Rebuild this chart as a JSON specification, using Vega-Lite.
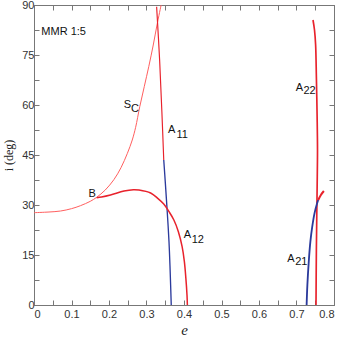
{
  "$schema": "https://vega.github.io/schema/vega-lite/v6.json",
  "width": 300,
  "height": 300,
  "autosize": "none",
  "padding": {"left": 34, "top": 5, "right": 7, "bottom": 32},
  "background": "white",
  "config": {
    "view": {"stroke": "#888", "strokeWidth": 1},
    "axis": {
      "domainColor": "#777",
      "tickColor": "#777",
      "tickSize": -5,
      "grid": false,
      "labelFont": "Liberation Sans",
      "labelFontSize": 11,
      "labelColor": "#333",
      "titleFont": "Liberation Serif",
      "titleColor": "#222",
      "titleFontWeight": "normal"
    }
  },
  "datasets": {
    "curves": [
      {"s": "SC", "k": 1, "e": 0.0, "i": 27.7},
      {"s": "SC", "k": 2, "e": 0.04, "i": 27.9},
      {"s": "SC", "k": 3, "e": 0.071, "i": 28.2},
      {"s": "SC", "k": 4, "e": 0.1, "i": 28.9},
      {"s": "SC", "k": 5, "e": 0.124, "i": 29.8},
      {"s": "SC", "k": 6, "e": 0.15, "i": 31.1},
      {"s": "SC", "k": 7, "e": 0.167, "i": 32.3},
      {"s": "SC", "k": 8, "e": 0.19, "i": 34.5},
      {"s": "SC", "k": 9, "e": 0.213, "i": 37.6},
      {"s": "SC", "k": 10, "e": 0.232, "i": 41.2},
      {"s": "SC", "k": 11, "e": 0.249, "i": 45.5},
      {"s": "SC", "k": 12, "e": 0.262, "i": 49.5},
      {"s": "SC", "k": 13, "e": 0.271, "i": 53.3},
      {"s": "SC", "k": 14, "e": 0.282, "i": 59.5},
      {"s": "SC", "k": 15, "e": 0.294, "i": 65.5},
      {"s": "SC", "k": 16, "e": 0.306, "i": 71.5},
      {"s": "SC", "k": 17, "e": 0.318, "i": 78},
      {"s": "SC", "k": 18, "e": 0.328, "i": 84},
      {"s": "SC", "k": 19, "e": 0.339, "i": 90},

      {"s": "A11r", "k": 1, "e": 0.327, "i": 89.5},
      {"s": "A11r", "k": 2, "e": 0.335, "i": 73.5},
      {"s": "A11r", "k": 3, "e": 0.341, "i": 58},
      {"s": "A11r", "k": 4, "e": 0.346, "i": 43.5},

      {"s": "A11b", "k": 1, "e": 0.346, "i": 43.5},
      {"s": "A11b", "k": 2, "e": 0.35, "i": 37},
      {"s": "A11b", "k": 3, "e": 0.355, "i": 28.5},
      {"s": "A11b", "k": 4, "e": 0.36, "i": 19},
      {"s": "A11b", "k": 5, "e": 0.363, "i": 10.5},
      {"s": "A11b", "k": 6, "e": 0.366, "i": 0},

      {"s": "A12", "k": 1, "e": 0.167, "i": 32.2},
      {"s": "A12", "k": 2, "e": 0.18, "i": 32.4},
      {"s": "A12", "k": 3, "e": 0.204, "i": 33},
      {"s": "A12", "k": 4, "e": 0.24, "i": 34.2},
      {"s": "A12", "k": 5, "e": 0.265, "i": 34.6},
      {"s": "A12", "k": 6, "e": 0.28, "i": 34.5},
      {"s": "A12", "k": 7, "e": 0.311, "i": 33.6},
      {"s": "A12", "k": 8, "e": 0.33, "i": 32},
      {"s": "A12", "k": 9, "e": 0.346, "i": 30.3},
      {"s": "A12", "k": 10, "e": 0.36, "i": 28},
      {"s": "A12", "k": 11, "e": 0.373, "i": 25.5},
      {"s": "A12", "k": 12, "e": 0.385, "i": 22},
      {"s": "A12", "k": 13, "e": 0.395, "i": 17.5},
      {"s": "A12", "k": 14, "e": 0.401, "i": 13},
      {"s": "A12", "k": 15, "e": 0.405, "i": 8},
      {"s": "A12", "k": 16, "e": 0.408, "i": 3},
      {"s": "A12", "k": 17, "e": 0.409, "i": 0},

      {"s": "A22", "k": 1, "e": 0.744, "i": 85.5},
      {"s": "A22", "k": 2, "e": 0.748, "i": 82.5},
      {"s": "A22", "k": 3, "e": 0.751, "i": 78},
      {"s": "A22", "k": 4, "e": 0.753, "i": 68.5},
      {"s": "A22", "k": 5, "e": 0.755, "i": 56.5},
      {"s": "A22", "k": 6, "e": 0.756, "i": 46.5},
      {"s": "A22", "k": 7, "e": 0.755, "i": 35},
      {"s": "A22", "k": 8, "e": 0.753, "i": 16.5},
      {"s": "A22", "k": 9, "e": 0.752, "i": 0},

      {"s": "A21b", "k": 1, "e": 0.727, "i": 0},
      {"s": "A21b", "k": 2, "e": 0.729, "i": 6},
      {"s": "A21b", "k": 3, "e": 0.733, "i": 13.5},
      {"s": "A21b", "k": 4, "e": 0.737, "i": 19},
      {"s": "A21b", "k": 5, "e": 0.742, "i": 23.5},
      {"s": "A21b", "k": 6, "e": 0.748, "i": 27.5},
      {"s": "A21b", "k": 7, "e": 0.755, "i": 30.5},
      {"s": "A21b", "k": 8, "e": 0.758, "i": 31.5},

      {"s": "A21r", "k": 1, "e": 0.758, "i": 31.5},
      {"s": "A21r", "k": 2, "e": 0.765, "i": 33},
      {"s": "A21r", "k": 3, "e": 0.773, "i": 34.2}
    ],
    "labels": [
      {"t": "S", "e": 0.249, "i": 59.1, "g": "main"},
      {"t": "A", "e": 0.367, "i": 51.6, "g": "main"},
      {"t": "A", "e": 0.409, "i": 20.1, "g": "main"},
      {"t": "A", "e": 0.708, "i": 64.2, "g": "main"},
      {"t": "A", "e": 0.685, "i": 12.9, "g": "main"},
      {"t": "11", "e": 0.395, "i": 50.1, "g": "sub"},
      {"t": "12", "e": 0.437, "i": 18.7, "g": "sub"},
      {"t": "22", "e": 0.735, "i": 63.3, "g": "sub"},
      {"t": "21", "e": 0.713, "i": 12.0, "g": "sub"},
      {"t": "C", "e": 0.269, "i": 57.9, "g": "csub"},
      {"t": "B", "e": 0.155, "i": 32.4, "g": "b"},
      {"t": "MMR 1:5", "e": 0.079, "i": 81, "g": "m"}
    ]
  },
  "resolve": {"axis": {"x": "independent", "y": "independent"}},
  "layer": [
    {
      "data": {"name": "curves"},
      "mark": {"type": "line", "interpolate": "catmull-rom", "clip": true},
      "encoding": {
        "x": {
          "field": "e", "type": "quantitative",
          "scale": {"domain": [0, 0.8], "nice": false, "zero": false},
          "axis": {
            "orient": "bottom", "title": "e", "titleFontStyle": "italic", "titleFontSize": 15, "titlePadding": 3,
            "values": [0, 0.05, 0.1, 0.15, 0.2, 0.25, 0.3, 0.35, 0.4, 0.45, 0.5, 0.55, 0.6, 0.65, 0.7, 0.75, 0.8],
            "labelExpr": "abs(datum.value*10 - round(datum.value*10)) < 0.001 ? (datum.value == 0 ? '0' : format(datum.value, '.1f')) : ''",
            "labelPadding": 8
          }
        },
        "y": {
          "field": "i", "type": "quantitative",
          "scale": {"domain": [0, 90], "nice": false, "zero": false},
          "axis": {
            "orient": "left", "title": "i (deg)", "titleFontSize": 12, "titlePadding": 6,
            "values": [0, 7.5, 15, 22.5, 30, 37.5, 45, 52.5, 60, 67.5, 75, 82.5, 90],
            "labelExpr": "datum.value % 15 == 0 ? format(datum.value, 'd') : ''",
            "labelPadding": 5
          }
        },
        "order": {"field": "k", "type": "quantitative"},
        "detail": {"field": "s"},
        "color": {
          "field": "s", "type": "nominal", "legend": null,
          "scale": {
            "domain": ["SC", "A11r", "A11b", "A12", "A22", "A21b", "A21r"],
            "range": ["#ff5f5f", "#e8222c", "#2b3a9c", "#e8222c", "#e8222c", "#2b3a9c", "#e8222c"]
          }
        },
        "strokeWidth": {
          "field": "s", "type": "nominal", "legend": null,
          "scale": {
            "domain": ["SC", "A11r", "A11b", "A12", "A22", "A21b", "A21r"],
            "range": [1, 2, 1.6, 2.2, 1.6, 1.4, 2]
          }
        }
      }
    },
    {
      "data": {"name": "labels"},
      "mark": {"type": "text", "align": "center", "baseline": "alphabetic", "color": "#111"},
      "encoding": {
        "x": {
          "field": "e", "type": "quantitative",
          "axis": {
            "orient": "top", "title": "", "labelExpr": "''",
            "values": [0, 0.05, 0.1, 0.15, 0.2, 0.25, 0.3, 0.35, 0.4, 0.45, 0.5, 0.55, 0.6, 0.65, 0.7, 0.75, 0.8]
          }
        },
        "y": {
          "field": "i", "type": "quantitative",
          "axis": {
            "orient": "right", "title": "", "labelExpr": "''",
            "values": [0, 7.5, 15, 22.5, 30, 37.5, 45, 52.5, 60, 67.5, 75, 82.5, 90]
          }
        },
        "text": {"field": "t"},
        "font": {
          "field": "g", "type": "nominal", "legend": null,
          "scale": {"domain": ["main", "sub", "csub", "b", "m"], "range": ["Liberation Serif", "Liberation Serif", "Liberation Sans", "Liberation Sans", "Liberation Sans"]}
        },
        "fontStyle": {
          "field": "g", "type": "nominal", "legend": null,
          "scale": {"domain": ["main", "sub", "csub", "b", "m"], "range": ["italic", "normal", "normal", "normal", "normal"]}
        },
        "fontSize": {
          "field": "g", "type": "nominal", "legend": null,
          "scale": {"domain": ["main", "sub", "csub", "b", "m"], "range": [15, 11, 9, 14, 14]}
        },
        "dx": {
          "field": "g", "type": "nominal", "legend": null,
          "scale": {"domain": ["main", "sub", "csub", "b", "m"], "range": [0, 0, 0, 0, 27]}
        }
      }
    }
  ]
}
